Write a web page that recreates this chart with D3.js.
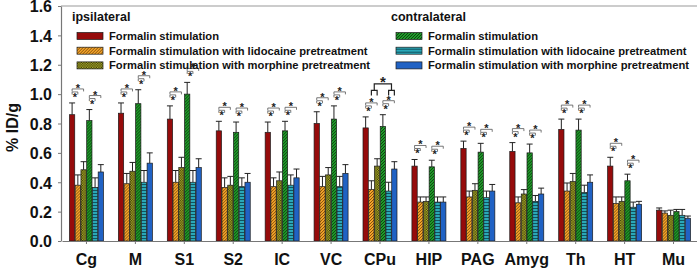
<!DOCTYPE html>
<html>
<head>
<meta charset="utf-8">
<script src="https://cdn.jsdelivr.net/npm/d3@7"></script>
<style>
  body { margin: 0; background: #fff; }
  svg { display: block; font-family: Arial, "Liberation Sans", sans-serif; }
</style>
</head>
<body>
<svg id="chart" width="697" height="279"></svg>
<script>
// regions (x categories)
const regions = ["Cg", "M", "S1", "S2", "IC", "VC", "CPu", "HIP", "PAG", "Amyg", "Th", "HT", "Mu"];

// series values (% ID/g) and SEM
const ipsiFormalin      = [0.86, 0.87, 0.83, 0.75, 0.74, 0.80, 0.77, 0.51, 0.63, 0.61, 0.76, 0.51, 0.21];
const ipsiFormalinErr   = [0.08, 0.07, 0.09, 0.065, 0.07, 0.08, 0.075, 0.045, 0.05, 0.06, 0.07, 0.06, 0.015];
const ipsiLido          = [0.38, 0.39, 0.40, 0.365, 0.37, 0.37, 0.35, 0.265, 0.30, 0.26, 0.34, 0.255, 0.19];
const ipsiLidoErr       = [0.07, 0.07, 0.08, 0.065, 0.06, 0.07, 0.06, 0.035, 0.04, 0.04, 0.055, 0.045, 0.015];
const ipsiMorph         = [0.485, 0.475, 0.50, 0.38, 0.41, 0.45, 0.51, 0.27, 0.345, 0.32, 0.405, 0.27, 0.175];
const ipsiMorphErr      = [0.055, 0.06, 0.07, 0.06, 0.06, 0.05, 0.05, 0.03, 0.045, 0.03, 0.055, 0.03, 0.035];
const contraFormalin    = [0.82, 0.935, 1.00, 0.74, 0.75, 0.83, 0.78, 0.505, 0.605, 0.60, 0.755, 0.41, 0.20];
const contraFormalinErr = [0.075, 0.095, 0.08, 0.07, 0.065, 0.09, 0.08, 0.045, 0.06, 0.06, 0.075, 0.045, 0.015];
const contraLido        = [0.365, 0.40, 0.40, 0.37, 0.38, 0.37, 0.34, 0.265, 0.295, 0.27, 0.33, 0.23, 0.175];
const contraLidoErr     = [0.065, 0.08, 0.08, 0.06, 0.07, 0.07, 0.06, 0.035, 0.045, 0.04, 0.05, 0.035, 0.04];
const contraMorph       = [0.47, 0.53, 0.50, 0.40, 0.43, 0.46, 0.49, 0.265, 0.34, 0.32, 0.40, 0.25, 0.155];
const contraMorphErr    = [0.05, 0.07, 0.06, 0.06, 0.06, 0.06, 0.05, 0.035, 0.045, 0.04, 0.05, 0.02, 0.015];

// y tick labels
const yTicks = [0.0, 0.2, 0.4, 0.6, 0.8, 1.0, 1.2, 1.4, 1.6];

// legend text
const ipsiLabels = ["Formalin stimulation", "Formalin stimulation with lidocaine pretreatment", "Formalin stimulation with morphine pretreatment"];
const contraLabels = ipsiLabels;

// regions whose formalin bars carry the two-star brackets
const starredRegions = regions.filter(r => r !== "Mu");

const series = [
  { key: "ipsiF", values: ipsiFormalin, err: ipsiFormalinErr, fill: "#960b0b" },
  { key: "ipsiL", values: ipsiLido, err: ipsiLidoErr, fill: "url(#pOrange)" },
  { key: "ipsiM", values: ipsiMorph, err: ipsiMorphErr, fill: "url(#pOlive)" },
  { key: "contraF", values: contraFormalin, err: contraFormalinErr, fill: "url(#pGreen)" },
  { key: "contraL", values: contraLido, err: contraLidoErr, fill: "url(#pCyan)" },
  { key: "contraM", values: contraMorph, err: contraMorphErr, fill: "#2062c4" }
];

const width = 697, height = 279;
const margin = { top: 6, right: 0, bottom: 38, left: 61 };

const svg = d3.select("#chart");

// patterns
const defs = svg.append("defs");
function hatch(id, bg, stroke, path, size, sw) {
  const p = defs.append("pattern").attr("id", id)
    .attr("patternUnits", "userSpaceOnUse").attr("width", size).attr("height", size);
  p.append("rect").attr("width", size).attr("height", size).attr("fill", bg);
  p.append("path").attr("d", path).attr("stroke", stroke).attr("stroke-width", sw).attr("fill", "none");
}
hatch("pOrange", "#f4a52a", "#6b3a05", "M-1,1 l2,-2 M0,3 l3,-3 M2,4 l2,-2", 3, 0.8);
hatch("pGreen", "#1f9a2a", "#0b3a0b", "M-1,1 l2,-2 M0,3 l3,-3 M2,4 l2,-2", 3, 0.9);
hatch("pCyan", "#2aa8b8", "#0d4a55", "M0,1.5 h3", 3, 0.9);
(function () {
  const p = defs.append("pattern").attr("id", "pOlive")
    .attr("patternUnits", "userSpaceOnUse").attr("width", 2.5).attr("height", 2.5);
  p.append("rect").attr("width", 2.5).attr("height", 2.5).attr("fill", "#b5b52a");
  p.append("rect").attr("width", 1.25).attr("height", 1.25).attr("fill", "#3a3a0a");
  p.append("rect").attr("x", 1.25).attr("y", 1.25).attr("width", 1.25).attr("height", 1.25).attr("fill", "#3a3a0a");
})();

const x0 = d3.scaleBand()
  .domain(regions)
  .range([margin.left + 1, width + 1])
  .paddingInner(0).paddingOuter(0);

const groupW = 34;
const x1 = d3.scaleBand()
  .domain(series.map(s => s.key))
  .range([0, groupW])
  .paddingInner(0.08);

const y = d3.scaleLinear()
  .domain([0, 1.6])
  .range([height - margin.bottom, margin.top]);

// top frame line
svg.append("line")
  .attr("x1", margin.left).attr("x2", width)
  .attr("y1", y(1.6)).attr("y2", y(1.6))
  .attr("stroke", "#999").attr("stroke-width", 1.2);

// y axis
svg.append("g")
  .attr("transform", `translate(${margin.left},0)`)
  .call(d3.axisLeft(y).tickValues(yTicks).tickFormat(d3.format(".1f")).tickSize(3).tickSizeOuter(0))
  .call(g => g.select(".domain").attr("stroke", "#777").attr("stroke-width", 1.2))
  .call(g => g.selectAll(".tick line").attr("stroke", "#777"))
  .call(g => g.selectAll(".tick text")
    .attr("x", -9)
    .attr("dy", "0.36em")
    .attr("fill", "#111")
    .style("font-size", "16px").style("font-weight", "bold"));

// y label
svg.append("text")
  .attr("transform", `translate(18,${(y(0) + y(1.6)) / 2 + 4}) rotate(-90)`)
  .attr("text-anchor", "middle")
  .style("font-size", "16px").style("font-weight", "bold").attr("fill", "#111")
  .text("% ID/g");

// bars
const groups = svg.append("g")
  .selectAll("g")
  .data(regions)
  .join("g")
  .attr("transform", r => `translate(${x0(r) + (x0.bandwidth() - groupW) / 2},0)`);

groups.selectAll("g.err")
  .data((r, i) => series.map(s => ({ key: s.key, v: s.values[i], e: s.err[i] })))
  .join(enter => {
    const g = enter.append("g").attr("class", "err");
    g.append("line")
      .attr("x1", d => x1(d.key) + x1.bandwidth() / 2)
      .attr("x2", d => x1(d.key) + x1.bandwidth() / 2)
      .attr("y1", d => y(d.v)).attr("y2", d => y(d.v + d.e))
      .attr("stroke", "#222").attr("stroke-width", 1);
    g.append("line")
      .attr("x1", d => x1(d.key) + x1.bandwidth() / 2 - 3)
      .attr("x2", d => x1(d.key) + x1.bandwidth() / 2 + 3)
      .attr("y1", d => y(d.v + d.e)).attr("y2", d => y(d.v + d.e))
      .attr("stroke", "#222").attr("stroke-width", 1);
    return g;
  });

groups.selectAll("rect")
  .data((r, i) => series.map(s => ({ key: s.key, v: s.values[i], fill: s.fill })))
  .join("rect")
  .attr("x", d => x1(d.key))
  .attr("y", d => y(d.v))
  .attr("width", x1.bandwidth())
  .attr("height", d => y(0) - y(d.v))
  .attr("fill", d => d.fill)
  .attr("stroke", "#1a1a1a").attr("stroke-width", 0.7);

// x axis
svg.append("g")
  .attr("transform", `translate(0,${y(0)})`)
  .call(d3.axisBottom(x0).tickSize(3).tickSizeOuter(0))
  .call(g => g.select(".domain").attr("stroke", "#777").attr("stroke-width", 1.2))
  .call(g => g.selectAll(".tick line").attr("stroke", "#777"))
  .call(g => g.selectAll(".tick text")
    .attr("y", 13)
    .attr("fill", "#111")
    .style("font-size", "16px").style("font-weight", "bold"));

// significance brackets
const star = (sel, cx, cy) => sel.append("text")
  .attr("x", cx).attr("y", cy + 6)
  .attr("text-anchor", "middle")
  .style("font-size", "11px").style("font-weight", "bold").attr("fill", "#222")
  .text("*");
const bracket = (sel, xa, xb, yy) => sel.append("path")
  .attr("d", `M${xa},${yy + 2.5}V${yy}H${xb}V${yy + 2.5}`)
  .attr("fill", "none").attr("stroke", "#555").attr("stroke-width", 0.8);

const sig = svg.append("g");
starredRegions.forEach(r => {
  const i = regions.indexOf(r);
  const gx = x0(r) + (x0.bandwidth() - groupW) / 2;
  const cx = k => gx + x1(k) + x1.bandwidth() / 2;
  [["ipsiF", "ipsiL", "ipsiM", ipsiFormalin[i] + ipsiFormalinErr[i]],
   ["contraF", "contraL", "contraM", contraFormalin[i] + contraFormalinErr[i]]].forEach(([a, b, c, top]) => {
    const E = y(top);
    bracket(sig, cx(a), cx(b), E - 11);
    star(sig, (cx(a) + cx(b)) / 2, E - 8);
    bracket(sig, cx(a), cx(c), E - 14);
    star(sig, (cx(a) + cx(c)) / 2, E - 17);
  });
});

// CPu between-side comparison
(function () {
  const r = "CPu";
  const gx = x0(r) + (x0.bandwidth() - groupW) / 2;
  const cx = k => gx + x1(k) + x1.bandwidth() / 2;
  const yb = y(0.99), ys = y(1.025), yt = y(1.07);
  const l = (cx("ipsiL") + cx("ipsiM")) / 2, rr = (cx("contraL") + cx("contraM")) / 2;
  sig.append("path")
    .attr("d", `M${cx("ipsiL")},${yb}V${ys}H${cx("ipsiM")}V${yb}` +
               `M${cx("contraL")},${yb}V${ys}H${cx("contraM")}V${yb}` +
               `M${l},${ys}V${yt}H${rr}V${ys}`)
    .attr("fill", "none").attr("stroke", "#222").attr("stroke-width", 1.2);
  sig.append("text")
    .attr("x", (l + rr) / 2).attr("y", yt + 3)
    .attr("text-anchor", "middle")
    .style("font-size", "15px").style("font-weight", "bold").attr("fill", "#222")
    .text("*");
})();

// legends
function legend(x, yTop, title, labels, fills) {
  const g = svg.append("g").attr("transform", `translate(${x},${yTop})`);
  g.append("text").attr("x", 0).attr("y", 4.5)
    .style("font-size", "12.5px").style("font-weight", "bold").attr("fill", "#111")
    .text(title);
  const items = g.selectAll("g.item").data(labels).join("g")
    .attr("transform", (d, i) => `translate(5,${20 + i * 14.7})`);
  items.append("rect")
    .attr("x", 0).attr("y", -3.5).attr("width", 26).attr("height", 7)
    .attr("fill", (d, i) => fills[i]).attr("stroke", "#1a1a1a").attr("stroke-width", 0.7);
  items.append("text")
    .attr("x", 32).attr("y", 4)
    .style("font-size", "11.2px").style("font-weight", "bold").attr("fill", "#111")
    .text(d => d);
}
legend(72, 16, "ipsilateral", ipsiLabels, series.slice(0, 3).map(s => s.fill));
legend(391, 16, "contralateral", contraLabels, series.slice(3).map(s => s.fill));
</script>
</body>
</html>
